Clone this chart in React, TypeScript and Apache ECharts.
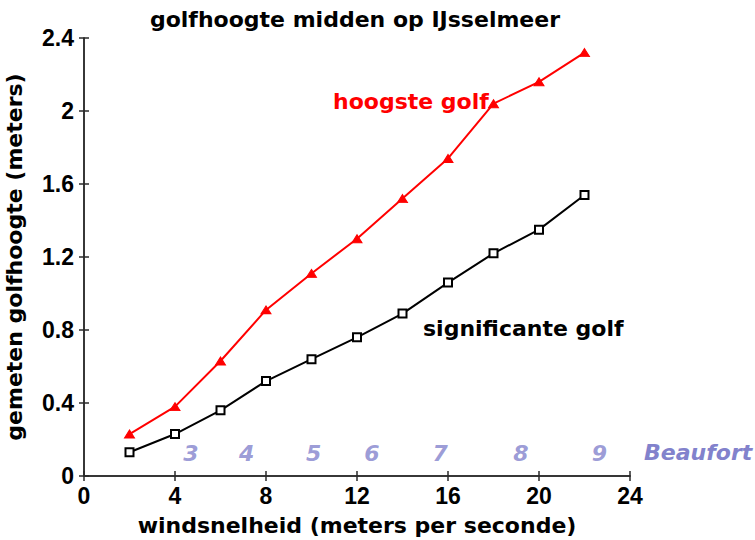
import React, { useEffect, useRef } from "react";
import * as echarts from "echarts";

const windSpeed = [2, 4, 6, 8, 10, 12, 14, 16, 18, 20, 22];
const significanteGolf = [0.13, 0.23, 0.36, 0.52, 0.64, 0.76, 0.89, 1.06, 1.22, 1.35, 1.54];
const hoogsteGolf = [0.23, 0.38, 0.63, 0.91, 1.11, 1.3, 1.52, 1.74, 2.04, 2.16, 2.32];
const beaufortLabels = ["3", "4", "5", "6", "7", "8", "9"];
const beaufortX = [4.7, 7.15, 10.1, 12.65, 15.65, 19.2, 22.65];
const beaufortY = 0.123;

const FONT = "'DejaVu Sans', Verdana, sans-serif";
const TICK_FONT = "'Liberation Sans', Arial, Helvetica, sans-serif";
const BFT_COLOR = "#8282cc";

export default function App() {
  const ref = useRef<HTMLDivElement>(null);
  useEffect(() => {
    if (!ref.current) return;
    const chart = echarts.init(ref.current, null, { renderer: "svg" });
    const axisLine = { show: true, lineStyle: { color: "#2a2a2a", width: 1.5 } };
    const axisTick = { show: true, inside: true, length: 5, lineStyle: { color: "#2a2a2a", width: 1.5 } };
    const tickLabel = { color: "#000", fontSize: 23, fontWeight: "bold" as const, fontFamily: TICK_FONT };
    const nameStyle = { fontSize: 22, fontWeight: "bold" as const, fontFamily: FONT, color: "#000" };
    chart.setOption({
      animation: false,
      backgroundColor: "#fff",
      grid: { left: 84, right: 125, top: 38, bottom: 64, containLabel: false, outerBoundsMode: "none" },
      xAxis: [
        {
          type: "value",
          min: 0,
          max: 24,
          interval: 4,
          position: "bottom",
          axisLine,
          axisTick,
          splitLine: { show: false },
          axisLabel: { ...tickLabel, margin: 8 },
          name: "windsnelheid (meters per seconde)",
          nameLocation: "middle",
          nameGap: 38,
          nameTextStyle: nameStyle,
        },
        {
          type: "value",
          min: 0,
          max: 24,
          interval: 4,
          position: "top",
          axisLine,
          axisTick,
          splitLine: { show: false },
          axisLabel: { show: false },
        },
      ],
      yAxis: [
        {
          type: "value",
          min: 0,
          max: 2.4,
          interval: 0.4,
          position: "left",
          axisLine,
          axisTick,
          splitLine: { show: false },
          axisLabel: {
            ...tickLabel,
            margin: 10,
            formatter: (v: number) => (v === 0 ? "0" : String(Math.round(v * 10) / 10)),
          },
          name: "gemeten golfhoogte (meters)",
          nameLocation: "middle",
          nameGap: 59,
          nameTextStyle: nameStyle,
        },
        {
          type: "value",
          min: 0,
          max: 2.4,
          interval: 0.4,
          position: "right",
          axisLine,
          axisTick,
          splitLine: { show: false },
          axisLabel: { show: false },
        },
      ],
      series: [
        {
          type: "line",
          data: windSpeed.map((x, i) => [x, significanteGolf[i]]),
          symbol: "rect",
          symbolSize: 8,
          lineStyle: { color: "#000", width: 2 },
          itemStyle: { color: "#fff", borderColor: "#000", borderWidth: 2 },
          z: 3,
        },
        {
          type: "line",
          data: windSpeed.map((x, i) => [x, hoogsteGolf[i]]),
          symbol: "triangle",
          symbolSize: [10, 8],
          lineStyle: { color: "#ff0000", width: 2 },
          itemStyle: { color: "#ff0000", borderColor: "#ff0000", borderWidth: 1 },
          z: 3,
        },
        {
          type: "scatter",
          data: beaufortX.map((x, i) => ({ value: [x, beaufortY], name: beaufortLabels[i] })),
          symbolSize: 0,
          silent: true,
          label: {
            show: true,
            position: "inside",
            formatter: (p: any) => p.name,
            color: BFT_COLOR,
            fontSize: 22,
            fontStyle: "italic",
            fontWeight: "bold",
            fontFamily: FONT,
          },
        },
      ],
      graphic: [
        {
          type: "text",
          x: 355,
          y: 19,
          style: {
            text: "golfhoogte midden op IJsselmeer",
            fill: "#000",
            font: `bold 22px ${FONT}`,
            align: "center",
            verticalAlign: "middle",
          },
        },
        {
          type: "text",
          x: 333,
          y: 101,
          style: { text: "hoogste golf", fill: "#ff0000", font: `bold 22px ${FONT}`, verticalAlign: "middle" },
        },
        {
          type: "text",
          x: 423,
          y: 328,
          style: { text: "significante golf", fill: "#000", font: `bold 22px ${FONT}`, verticalAlign: "middle" },
        },
        {
          type: "text",
          x: 644,
          y: 452,
          style: { text: "Beaufort", fill: BFT_COLOR, font: `italic bold 22px ${FONT}`, verticalAlign: "middle" },
        },
      ],
    });
    return () => chart.dispose();
  }, []);
  return <div ref={ref} style={{ width: 755, height: 540, position: "absolute", left: 0, top: 0 }} />;
}
